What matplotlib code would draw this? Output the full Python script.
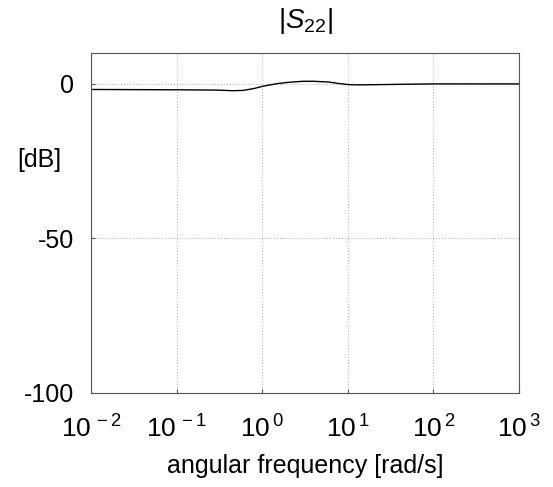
import matplotlib
matplotlib.use('Agg')
import matplotlib.pyplot as plt
import numpy as np

freq = [0.01, 0.1, 0.3, 0.45, 0.6, 0.8, 1.0, 1.5, 2.0, 3.0, 4.0, 6.0, 8.0, 10.0, 12.0, 15.0, 20.0, 50.0, 100.0, 1000.0]
mag_db = [-1.8, -1.9, -2.0, -2.2, -2.1, -1.5, -0.8, 0.1, 0.5, 0.85, 0.85, 0.6, 0.1, -0.2, -0.3, -0.3, -0.25, -0.1, 0.0, 0.0]

plt.rcParams['font.family'] = 'Liberation Sans'
plt.rcParams['mathtext.fontset'] = 'custom'
plt.rcParams['mathtext.rm'] = 'Liberation Sans'
plt.rcParams['mathtext.it'] = 'Liberation Sans:italic'

fig = plt.figure(figsize=(5.53, 4.87), dpi=100)
ax = fig.add_axes([91/553, 1 - 393/487, 428/553, 340/487])

ax.semilogx(freq, mag_db, color='black', linewidth=1.0)
ax.set_xlim(1e-2, 1e3)
ax.set_ylim(-100, 10)
ax.set_yticks([-100, -50, 0])
ax.set_yticklabels(['-100', '-50', '0'])
ax.set_xticks([1e-2, 1e-1, 1e0, 1e1, 1e2, 1e3])
ax.set_xticklabels([r'$10^{\,-2}$', r'$10^{\,-1}$', r'$10^{\,0}$', r'$10^{\,1}$', r'$10^{\,2}$', r'$10^{\,3}$'])
ax.minorticks_off()
ax.tick_params(axis='both', direction='in', length=3, labelsize=19, colors='#555555', labelcolor='black')
ax.tick_params(axis='x', pad=16)
ax.tick_params(axis='y', pad=12, labelsize=18)
ax.grid(True, linestyle=':', color='#bbbbbb', linewidth=0.8)
for s in ax.spines.values():
    s.set_color('#555555')

ax.set_title(r'$|S_{22}|$', fontsize=20, pad=18)
ax.set_xlabel('angular frequency [rad/s]', fontsize=18, labelpad=8)
ax.text(-0.12, 0.685, '[dB]', transform=ax.transAxes, fontsize=18, ha='center', va='center')

fig.savefig('out.png', dpi=100)
